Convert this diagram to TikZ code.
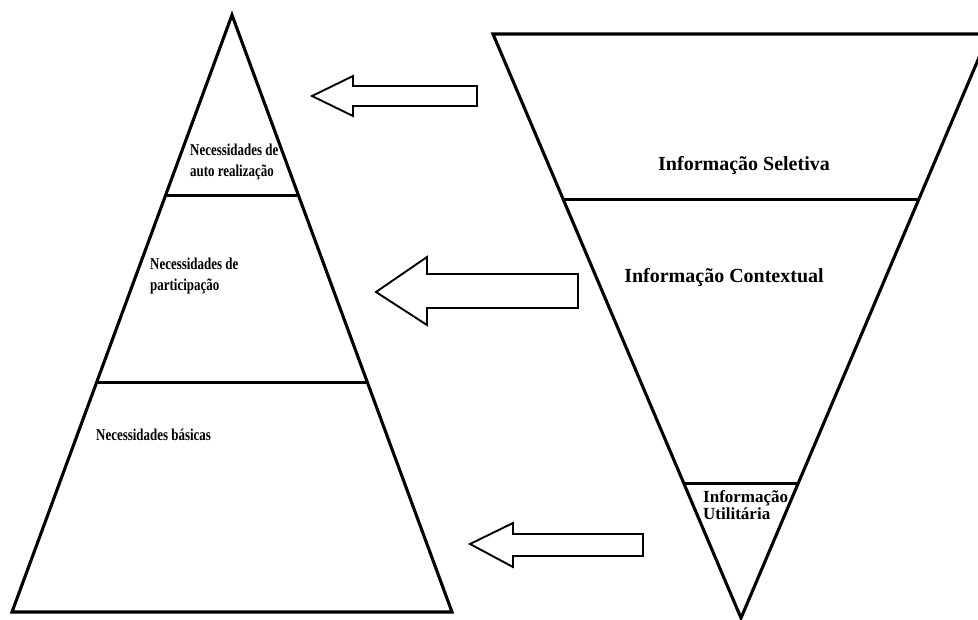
\documentclass[tikz,border=0pt]{standalone}
\usepackage{fontspec}
\setmainfont{Liberation Serif}
\newfontfamily\estreita[FakeStretch=0.78]{Liberation Serif}
\usetikzlibrary{positioning,calc}
\tikzset{
  nivel/.style ={line width=3.1pt,line join=miter},
  seta/.style  ={line width=1.9pt,line join=miter,fill=white},
  txtpir/.style={font=\estreita\bfseries\fontsize{16.6}{21}\selectfont,inner sep=0pt,align=left,anchor=west},
  txtinf/.style={font=\bfseries\fontsize{20}{24}\selectfont,inner sep=0pt},
  txtpeq/.style={font=\bfseries\fontsize{17}{16.5}\selectfont,inner sep=0pt,align=left,anchor=west},
}

\begin{document}
\begin{tikzpicture}[x=1pt,y=-1pt]
  \useasboundingbox (0,0) rectangle (978,619);
  % piramide das necessidades
  \coordinate (pTopo) at (232,15);
  \coordinate (pEsq) at (12,612);
  \coordinate (pDir) at (452,612);
  \draw[nivel] (pTopo) -- (pDir) -- (pEsq) -- cycle;
  \draw[nivel] ($(pTopo)!.303!(pEsq)$) -- ($(pTopo)!.303!(pDir)$);
  \draw[nivel] ($(pTopo)!.616!(pEsq)$) -- ($(pTopo)!.616!(pDir)$);
  \node[txtpir] (auto) at (190,162) {Necessidades de\\auto realização};
  \node[txtpir] (part) at (150,276) {Necessidades de\\participação};
  \node[txtpir] (basic) at (96,435) {Necessidades básicas};
  % piramide invertida da informacao
  \coordinate (iEsq) at (493,34);
  \coordinate (iDir) at (989,34);
  \coordinate (iBase) at (741,618);
  \draw[nivel] (iEsq) -- (iDir) -- (iBase) -- cycle;
  \draw[nivel] ($(iEsq)!.283!(iBase)$) -- ($(iDir)!.283!(iBase)$);
  \draw[nivel] ($(iEsq)!.769!(iBase)$) -- ($(iDir)!.769!(iBase)$);
  \node[txtinf] (selet) at (744,166) {Informação Seletiva};
  \node[txtinf] (context) at (724,278) {Informação Contextual};
  \node[txtpeq] (util) at (703,505) {Informação\\Utilitária};
  % setas
  \draw[seta] (312,96) -- (353,76) -- (353,86) -- (477,86) -- (477,106) -- (353,106) -- (353,116) -- cycle;
  \draw[seta] (376,292) -- (427,257) -- (427,274) -- (578,274) -- (578,308) -- (427,308) -- (427,325) -- cycle;
  \draw[seta] (470,544) -- (513,523) -- (513,534) -- (643,534) -- (643,556) -- (513,556) -- (513,567) -- cycle;
\end{tikzpicture}
\end{document}
